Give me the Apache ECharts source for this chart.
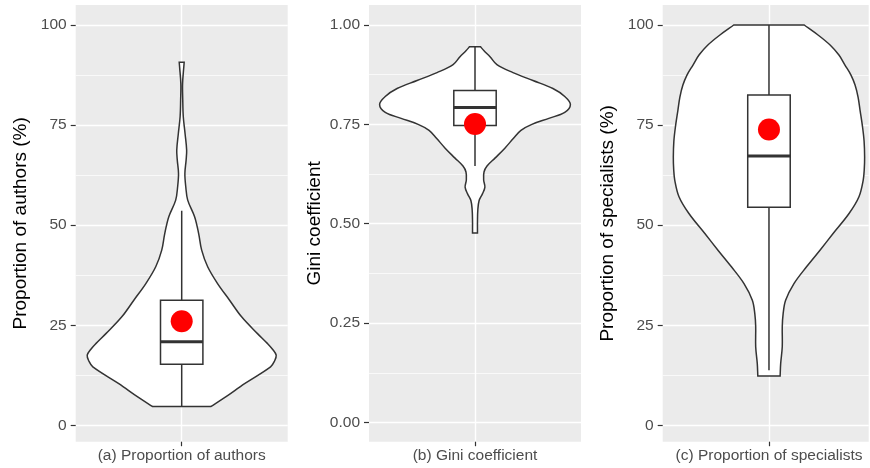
<!DOCTYPE html>
<html>
<head>
<meta charset="utf-8">
<script src="https://cdn.jsdelivr.net/npm/echarts@6/dist/echarts.min.js"></script>
<style>
  html, body { margin: 0; padding: 0; background: #ffffff; }
  #chart { width: 870px; height: 468px; }
</style>
</head>
<body>
<div id="chart"></div>
<script>
// Violin outlines: y positions (bottom to top) and half-widths in x-axis units
const authorsY = [4.67, 7.1, 10.4, 14.6, 16, 17.5, 19, 20.4, 22.9, 27.1, 31.25, 35.4, 39.6, 43.75, 47.9, 52.1, 56.25, 59.6, 62.9, 66.25, 68.75, 72.9, 77.1, 81.25, 85.4, 89.6, 90.67];
const authorsHalfWidth = [0.164, 0.249, 0.356, 0.503, 0.525, 0.535, 0.514, 0.486, 0.429, 0.339, 0.271, 0.203, 0.147, 0.113, 0.096, 0.073, 0.034, 0.023, 0.018, 0.025, 0.028, 0.019, 0.009, 0.006, 0.005, 0.012, 0.014];

const giniY = [0.477, 0.505, 0.535, 0.558, 0.575, 0.592, 0.61, 0.63, 0.645, 0.665, 0.69, 0.715, 0.735, 0.75, 0.765, 0.78, 0.80, 0.82, 0.84, 0.86, 0.88, 0.90, 0.92, 0.935, 0.945];
const giniHalfWidth = [0.014, 0.014, 0.016, 0.023, 0.042, 0.056, 0.049, 0.051, 0.068, 0.113, 0.169, 0.218, 0.260, 0.322, 0.418, 0.508, 0.540, 0.508, 0.441, 0.328, 0.215, 0.124, 0.085, 0.051, 0.031];

const specialistsY = [12.33, 15.4, 19.6, 24.6, 27.9, 31.25, 35.4, 39.6, 43.75, 47.9, 52.9, 57.1, 61.25, 64, 67, 71, 74.6, 78.75, 82, 85, 87.5, 90, 92.5, 95, 97.5, 100];
const specialistsHalfWidth = [0.063, 0.066, 0.075, 0.075, 0.080, 0.094, 0.141, 0.212, 0.288, 0.362, 0.452, 0.508, 0.532, 0.538, 0.540, 0.537, 0.528, 0.514, 0.503, 0.486, 0.463, 0.429, 0.395, 0.345, 0.277, 0.199];

// Box statistics: [lower whisker, Q1, median, Q3, upper whisker]
const authorsBox = [4.67, 15.25, 20.9, 31.25, 53.6];
const giniBox = [0.645, 0.747, 0.792, 0.835, 0.945];
const specialistsBox = [13.75, 54.5, 67.25, 82.5, 100];

// Means
const authorsMean = 26.0;
const giniMean = 0.751;
const specialistsMean = 73.9;

// Axis texts and ticks
const axisTitles = ['Proportion of authors (%)', 'Gini coefficient', 'Proportion of specialists (%)'];
const categoryLabels = ['(a) Proportion of authors', '(b) Gini coefficient', '(c) Proportion of specialists'];
const percentTicks = [0, 25, 50, 75, 100];
const percentMinorTicks = [12.5, 37.5, 62.5, 87.5];
const giniTicks = [0, 0.25, 0.5, 0.75, 1];
const giniMinorTicks = [0.125, 0.375, 0.625, 0.875];

const FONT = "'Liberation Sans', Arial, Helvetica, sans-serif";
const INK = '#333333';
const LINE_W = 1.5;

const panels = [
  { left: 75.7, width: 212, xMax: 0.6, yMin: -4.1, yMax: 105, ticks: percentTicks, minor: percentMinorTicks,
    fmt: v => String(v), ys: authorsY, ws: authorsHalfWidth, box: authorsBox, mean: authorsMean },
  { left: 369, width: 212, xMax: 0.6, yMin: -0.048, yMax: 1.05, ticks: giniTicks, minor: giniMinorTicks,
    fmt: v => v.toFixed(2), ys: giniY, ws: giniHalfWidth, box: giniBox, mean: giniMean },
  { left: 662.7, width: 206, xMax: 0.563, yMin: -4.1, yMax: 105, ticks: percentTicks, minor: percentMinorTicks,
    fmt: v => String(v), ys: specialistsY, ws: specialistsHalfWidth, box: specialistsBox, mean: specialistsMean }
];

const BOX_HALF = 0.12;

function violinItem(ys, ws) {
  return function (params, api) {
    const n = ys.length;
    const pts = [];
    // corner points are doubled so the trimmed ends stay flat and sharp
    pts.push(api.coord([ws[0], ys[0]]));
    for (let k = 0; k < n; k++) pts.push(api.coord([ws[k], ys[k]]));
    pts.push(api.coord([ws[n - 1], ys[n - 1]]));
    pts.push(api.coord([-ws[n - 1], ys[n - 1]]));
    for (let k = n - 1; k >= 0; k--) pts.push(api.coord([-ws[k], ys[k]]));
    pts.push(api.coord([-ws[0], ys[0]]));
    return {
      type: 'polygon',
      shape: { points: pts, smooth: 0.35 },
      style: { fill: '#ffffff', stroke: INK, lineWidth: LINE_W }
    };
  };
}

function boxItem(box) {
  return function (params, api) {
    const [lo, q1, med, q3, hi] = box;
    const top = api.coord([0, hi]);
    const q3c = api.coord([0, q3]);
    const q1c = api.coord([0, q1]);
    const bot = api.coord([0, lo]);
    const tl = api.coord([-BOX_HALF, q3]);
    const br = api.coord([BOX_HALF, q1]);
    const ml = api.coord([-BOX_HALF, med]);
    const mr = api.coord([BOX_HALF, med]);
    const line = { stroke: INK, lineWidth: LINE_W };
    return {
      type: 'group',
      children: [
        { type: 'line', shape: { x1: top[0], y1: top[1], x2: q3c[0], y2: q3c[1] }, style: line },
        { type: 'line', shape: { x1: q1c[0], y1: q1c[1], x2: bot[0], y2: bot[1] }, style: line },
        { type: 'rect', shape: { x: tl[0], y: tl[1], width: br[0] - tl[0], height: br[1] - tl[1] },
          style: { fill: '#ffffff', stroke: INK, lineWidth: LINE_W } },
        { type: 'line', shape: { x1: ml[0], y1: ml[1], x2: mr[0], y2: mr[1] }, style: { stroke: INK, lineWidth: 3 } }
      ]
    };
  };
}

const grid = [], xAxis = [], yAxis = [], series = [];

panels.forEach((p, i) => {
  grid.push({
    left: p.left, top: 5, width: p.width, height: 436.7,
    show: true, backgroundColor: '#EBEBEB', borderWidth: 0
  });
  xAxis.push({
    gridIndex: i, type: 'value', min: -0.6, max: p.xMax, position: 'bottom',
    axisLine: { show: false, onZero: false },
    axisTick: { show: true, length: 4.5, customValues: [0], lineStyle: { color: INK, width: 1.2 } },
    axisLabel: { customValues: [0], formatter: () => categoryLabels[i], color: '#4D4D4D',
      fontSize: 15.5, fontFamily: FONT, margin: 6 },
    splitLine: { show: true, lineStyle: { color: '#ffffff', width: 1.4 } }
  });
  yAxis.push({
    gridIndex: i, type: 'value', min: p.yMin, max: p.yMax, position: 'left',
    name: axisTitles[i], nameLocation: 'middle', nameGap: 45, nameRotate: 90,
    nameTextStyle: { color: '#000000', fontSize: 19, fontFamily: FONT },
    axisLine: { show: false, onZero: false },
    axisTick: { show: true, length: 5, customValues: p.ticks, lineStyle: { color: INK, width: 1.2 } },
    axisLabel: { customValues: p.ticks, formatter: p.fmt, color: '#4D4D4D', fontSize: 15.5, fontFamily: FONT, margin: 9 },
    splitLine: { show: true, lineStyle: { color: '#ffffff', width: 1.4 } },
    z: 3
  });
  yAxis.push({
    gridIndex: i, type: 'value', min: p.yMin, max: p.yMax, position: 'left',
    axisLine: { show: false, onZero: false },
    axisTick: { show: false, customValues: p.minor },
    axisLabel: { show: false, customValues: p.minor },
    splitLine: { show: true, lineStyle: { color: '#ffffff', width: 0.7 } },
    z: 2
  });
  series.push({
    type: 'custom', xAxisIndex: i, yAxisIndex: 2 * i, data: [[0, p.ys[0]]],
    renderItem: violinItem(p.ys, p.ws), z: 5, silent: true
  });
  series.push({
    type: 'custom', xAxisIndex: i, yAxisIndex: 2 * i, data: [[0, p.box[2]]],
    renderItem: boxItem(p.box), z: 6, silent: true
  });
  series.push({
    type: 'scatter', xAxisIndex: i, yAxisIndex: 2 * i, data: [[0, p.mean]],
    symbol: 'circle', symbolSize: 22, itemStyle: { color: '#FF0000', opacity: 1 }, z: 7, silent: true
  });
});

const chart = echarts.init(document.getElementById('chart'), null, { renderer: 'canvas' });
chart.setOption({
  animation: false,
  backgroundColor: '#ffffff',
  textStyle: { fontFamily: FONT },
  grid, xAxis, yAxis, series
});
</script>
</body>
</html>
